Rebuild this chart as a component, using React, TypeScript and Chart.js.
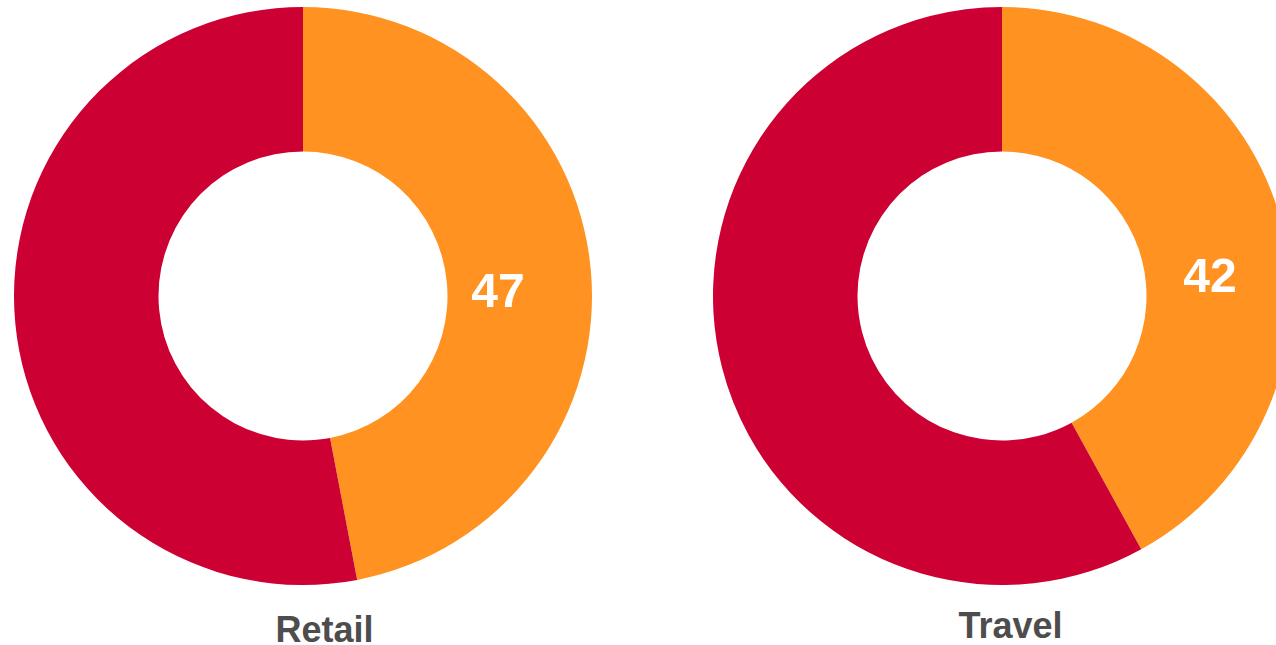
import React, { useEffect, useRef } from "react";
import { Chart, registerables } from "chart.js";

Chart.register(...registerables);

const categories = ["Retail", "Travel"];
const highlightValues = [47, 42];
const remainderValues = [53, 58];
const sliceColors = ["#FF9220", "#CC0033"];

const FONT = '"Liberation Sans", Arial, Helvetica, sans-serif';

const valueLabelPlugin = {
  id: "valueLabel",
  afterDatasetsDraw(chart: any, _args: any, opts: any) {
    const meta = chart.getDatasetMeta(0);
    const arc = meta.data[0];
    if (!arc) return;
    const p = arc.getProps(["x", "y", "startAngle", "endAngle", "outerRadius"], true);
    const ang = p.startAngle + (p.endAngle - p.startAngle) * opts.fraction;
    const r = p.outerRadius * opts.radiusRatio;
    const x = p.x + Math.cos(ang) * r;
    const y = p.y + Math.sin(ang) * r;
    const ctx = chart.ctx;
    ctx.save();
    ctx.font = `bold 48px ${FONT}`;
    ctx.fillStyle = "#FFFFFF";
    ctx.textAlign = "center";
    ctx.textBaseline = "middle";
    ctx.fillText(String(chart.data.datasets[0].data[0]), x, y);
    ctx.restore();
  },
};

function Donut({ index, fraction, radiusRatio }: { index: number; fraction: number; radiusRatio: number }) {
  const ref = useRef<HTMLCanvasElement | null>(null);
  useEffect(() => {
    if (!ref.current) return;
    const chart = new Chart(ref.current, {
      type: "doughnut",
      data: {
        labels: ["Yes", "No"],
        datasets: [
          {
            data: [highlightValues[index], remainderValues[index]],
            backgroundColor: sliceColors,
            borderWidth: 0,
          },
        ],
      },
      options: {
        animation: false,
        responsive: true,
        maintainAspectRatio: false,
        cutout: "50%",
        layout: { padding: 0 },
        plugins: {
          legend: { display: false },
          tooltip: { enabled: false },
          valueLabel: { fraction, radiusRatio },
        } as any,
      },
      plugins: [valueLabelPlugin],
    });
    return () => chart.destroy();
  }, [index, fraction, radiusRatio]);
  return <canvas ref={ref} />;
}

export default function App() {
  const titleStyle = (left: number, top: number): React.CSSProperties => ({
    position: "absolute",
    left,
    top,
    width: 300,
    textAlign: "center",
    fontFamily: FONT,
    fontWeight: "bold",
    fontSize: 36,
    lineHeight: "36px",
    color: "#4D4D4D",
    whiteSpace: "nowrap",
  });
  return (
    <div
      style={{
        position: "fixed",
        left: 0,
        top: 0,
        width: 1276,
        height: 645,
        overflow: "hidden",
        background: "#FFFFFF",
      }}
    >
      <div style={{ position: "absolute", left: 14, top: 7, width: 578, height: 578 }}>
        <Donut index={0} fraction={0.528} radiusRatio={0.675} />
      </div>
      <div style={{ position: "absolute", left: 713, top: 7, width: 578, height: 578 }}>
        <Donut index={1} fraction={0.564} radiusRatio={0.722} />
      </div>
      <div style={titleStyle(324.5 - 150, 611.5)}>{categories[0]}</div>
      <div style={titleStyle(1010.5 - 150, 607.5)}>{categories[1]}</div>
    </div>
  );
}
